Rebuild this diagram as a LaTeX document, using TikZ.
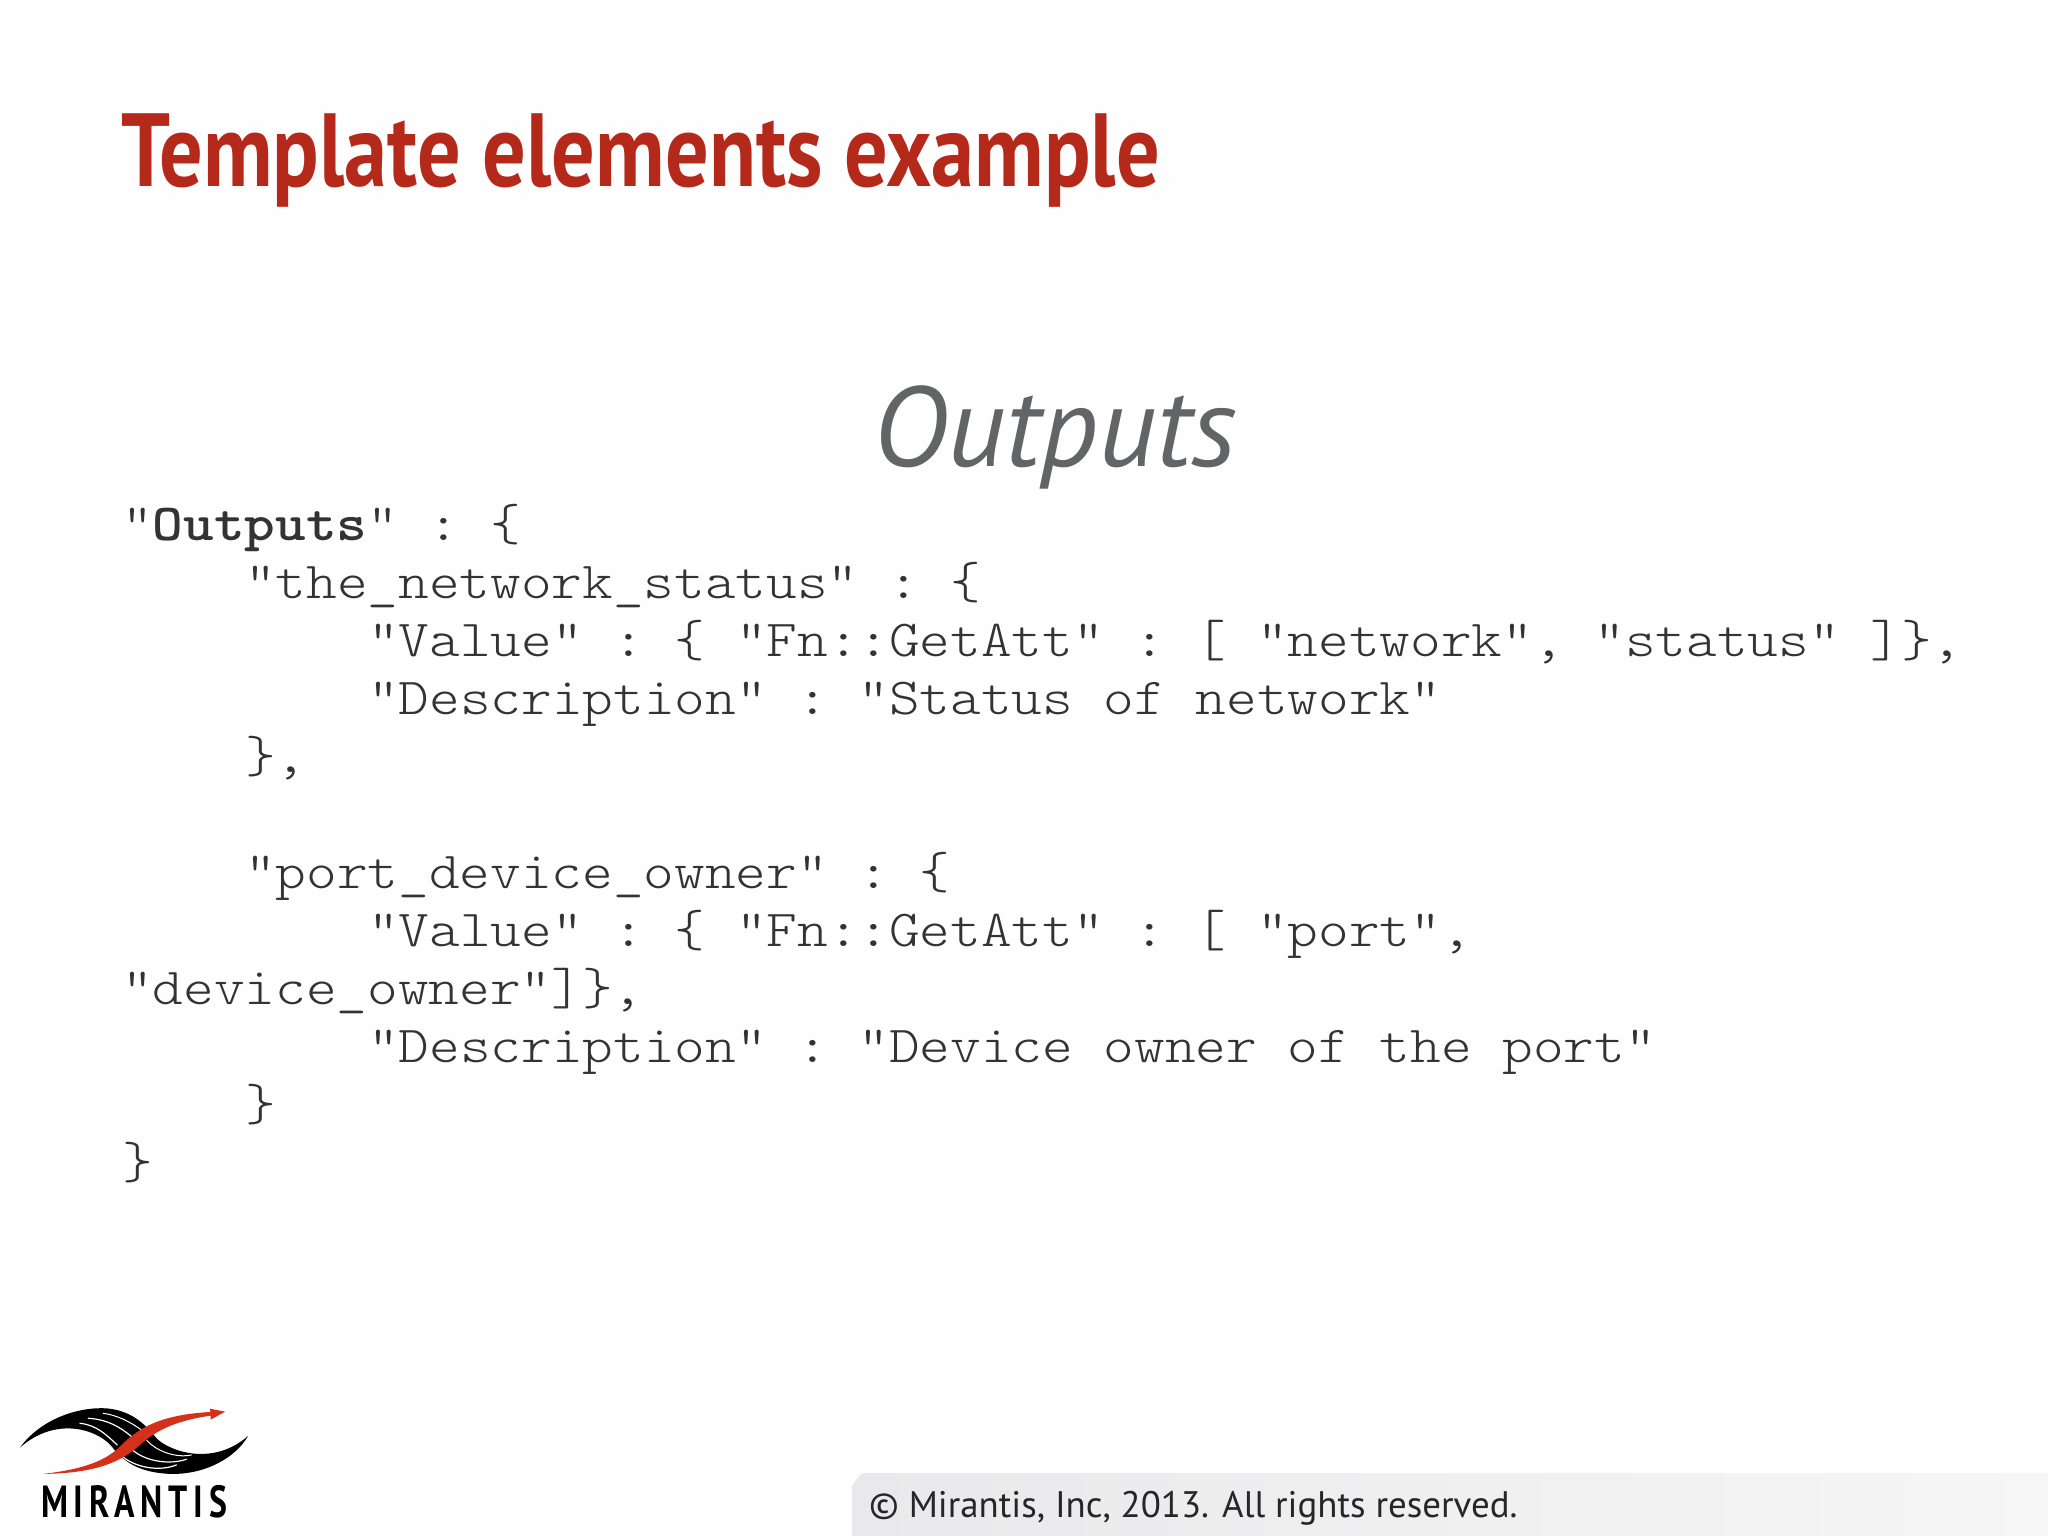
\documentclass[tikz,border=0pt]{standalone}
\usepackage{fontspec}
\setmainfont{PT Sans}
\setmonofont{Latin Modern Mono Light}
\definecolor{titlered}{HTML}{B5291A}
\definecolor{logored}{HTML}{D5301A}
\definecolor{subgray}{HTML}{636466}
\definecolor{codegray}{HTML}{333333}
\definecolor{barleft}{HTML}{E9E9EB}
\definecolor{barright}{HTML}{F6F6F6}
\definecolor{slidebg}{HTML}{FEFEFE}
\begin{document}
\begin{tikzpicture}[
        x=1pt, y=-1pt,
        codeline/.style={anchor=base west, inner sep=0pt, font=\ttfamily\fontsize{52}{52}\selectfont\addfontfeatures{FakeStretch=1.123}, text=codegray},
        slidetitle/.style={anchor=base west, inner sep=0pt, font=\bfseries\fontsize{104}{104}\selectfont, text=titlered},
        subtitle/.style={anchor=base, inner sep=0pt, font=\itshape\fontsize{113.5}{113.5}\selectfont, text=subgray},
        footer/.style={anchor=base west, inner sep=0pt, font=\fontsize{36.9}{36.9}\selectfont, text=black!85},
        stripe/.style={draw=slidebg, line cap=round, fill=none}
    ]
    \useasboundingbox (0,0) rectangle (2048,1536);
    \fill[slidebg] (0,0) rectangle (2048,1536);

    \node[slidetitle] (title) at (121,186) {\addfontfeatures{FakeStretch=0.83}Template elements example};
    \node[subtitle] (outputs) at (1055,466) {Outputs};

    % code listing
    \node[codeline] (l1) at (122,540) {"\textbf{Outputs}" : \{};
    \node[codeline] (l2) at (245,598) {"the\_network\_status" : \{};
    \node[codeline] (l3) at (368,656) {"Value" : \{ "Fn::GetAtt" : [ "network", "status" ]\},};
    \node[codeline] (l4) at (368,714) {"Description" : "Status of network"};
    \node[codeline] (l5) at (245,772) {\},};
    \node[codeline] (l6) at (245,888) {"port\_device\_owner" : \{};
    \node[codeline] (l7) at (368,946) {"Value" : \{ "Fn::GetAtt" : [ "port",};
    \node[codeline] (l8) at (122,1004) {"device\_owner"]\},};
    \node[codeline] (l9) at (368,1062) {"Description" : "Device owner of the port"};
    \node[codeline] (l10) at (245,1120) {\}};
    \node[codeline] (l11) at (122,1178) {\}};

    % footer bar
    \shade[left color=barleft, right color=barright] (852,1536) -- (852,1484) to[out=-90,in=180] (864,1473) -- (2048,1473) -- (2048,1536) -- cycle;
    \node[footer] (copy) at (869,1517) {© Mirantis, Inc, 2013. All rights reserved.};

    % logo
    \begin{scope}[shift={(0,1380)}, x=0.333pt, y=-0.333pt]
    \fill[black] (60,203) .. controls (120,120) and (230,80) .. (320,85) .. controls (390,92) and (430,125) .. (470,175) .. controls (510,215) and (640,260) .. (745,168) .. controls (710,230) and (620,285) .. (510,282) .. controls (430,278) and (380,255) .. (340,205) .. controls (300,150) and (170,105) .. (60,203) -- cycle;
    \draw[stripe, line width=1.2pt] (240,130) .. controls (290,135) and (320,165) .. (352,195);
    \draw[stripe, line width=1.2pt] (265,115) .. controls (320,118) and (360,140) .. (395,170);
    \draw[stripe, line width=1pt] (310,100) .. controls (350,105) and (390,125) .. (425,150);
    \draw[stripe, line width=1.2pt] (365,228) .. controls (410,265) and (480,275) .. (530,255);
    \draw[stripe, line width=1.2pt] (400,212) .. controls (440,245) and (510,255) .. (560,238);
    \draw[stripe, line width=1pt] (440,180) .. controls (470,215) and (530,235) .. (575,225);
    \fill[logored] (130,282) .. controls (230,270) and (310,250) .. (360,200) .. controls (410,150) and (470,105) .. (632,96) -- (630,86) -- (676,95) -- (633,119) -- (632,107) .. controls (530,122) and (470,150) .. (420,195) .. controls (360,250) and (280,280) .. (130,282) -- cycle;
    \end{scope}
    \node[anchor=base, inner sep=0pt, font=\bfseries\fontsize{45}{45}\selectfont, text=black] (brand) at (134,1517) {\addfontfeatures{LetterSpace=13,FakeStretch=0.75}MIRANTIS};
\end{tikzpicture}
\end{document}
